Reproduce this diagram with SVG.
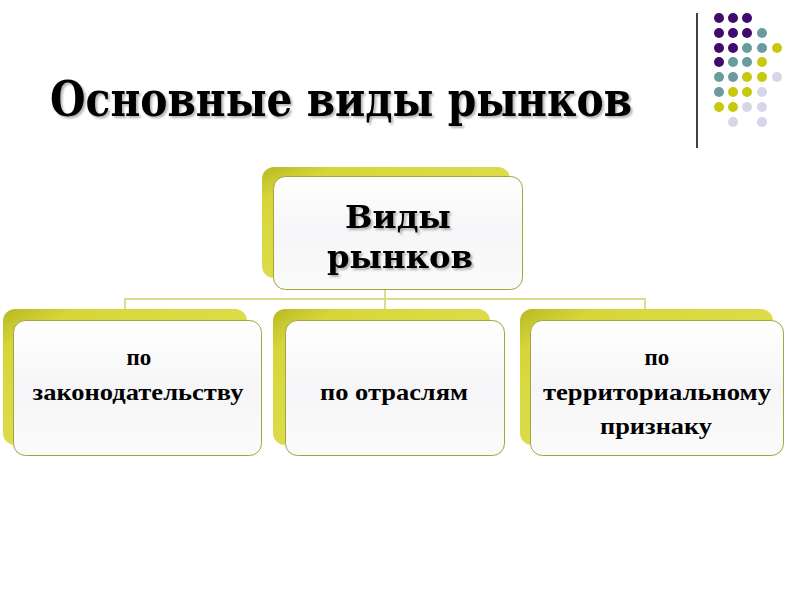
<svg xmlns="http://www.w3.org/2000/svg" width="800" height="600" viewBox="0 0 800 600">
<defs>
<linearGradient id="back" x1="0" y1="0" x2="1" y2="1">
<stop offset="0" stop-color="#b8b824"/>
<stop offset="0.15" stop-color="#d6d63a"/>
<stop offset="1" stop-color="#e4e460"/>
</linearGradient>
<linearGradient id="front" x1="0" y1="0" x2="0" y2="1">
<stop offset="0" stop-color="#ffffff"/>
<stop offset="0.5" stop-color="#f6f6f8"/>
<stop offset="1" stop-color="#fbfbfb"/>
</linearGradient>
<filter id="sh" x="-5%" y="-5%" width="110%" height="120%">
<feDropShadow dx="2" dy="2" stdDeviation="0.8" flood-color="#000" flood-opacity="0.3"/>
</filter>
</defs>
<style>
.back{fill:url(#back);}
.front{fill:url(#front);stroke:#a4a43c;stroke-width:1;}
.conn{fill:none;stroke:#dcdc8c;stroke-width:2;}
.t{font-family:"Liberation Serif","DejaVu Serif",serif;font-weight:bold;font-size:23px;fill:#000;text-anchor:middle;}
.big{font-family:"DejaVu Serif","Liberation Serif",serif;font-weight:bold;font-size:32px;fill:#000;text-anchor:middle;}
.p{fill:#400a6e}.g{fill:#6a9c9e}.y{fill:#c8c80c}.l{fill:#d6d6e8}
</style>
<rect width="800" height="600" fill="#fff"/>

<g id="title">
<text x="50" y="116" font-family="'DejaVu Serif','Liberation Serif',serif" font-weight="bold" font-size="48" textLength="582" lengthAdjust="spacingAndGlyphs" filter="url(#sh)">Основные виды рынков</text>
</g>

<g id="decor">
<line x1="697" y1="13" x2="697" y2="148" stroke="#000" stroke-width="1.5"/>
<circle class="p" cx="719" cy="18" r="5"/><circle class="p" cx="733" cy="18" r="5"/><circle class="p" cx="747" cy="18" r="5"/>
<circle class="p" cx="719" cy="33" r="5"/><circle class="p" cx="733" cy="33" r="5"/><circle class="p" cx="747" cy="33" r="5"/><circle class="g" cx="762" cy="33" r="5"/>
<circle class="p" cx="719" cy="48" r="5"/><circle class="p" cx="733" cy="48" r="5"/><circle class="g" cx="747" cy="48" r="5"/><circle class="g" cx="762" cy="48" r="5"/><circle class="y" cx="777" cy="48" r="5"/>
<circle class="p" cx="719" cy="62" r="5"/><circle class="g" cx="733" cy="62" r="5"/><circle class="g" cx="747" cy="62" r="5"/><circle class="y" cx="762" cy="62" r="5"/>
<circle class="g" cx="719" cy="77" r="5"/><circle class="g" cx="733" cy="77" r="5"/><circle class="y" cx="747" cy="77" r="5"/><circle class="y" cx="762" cy="77" r="5"/><circle class="l" cx="777" cy="77" r="5"/>
<circle class="g" cx="719" cy="92" r="5"/><circle class="y" cx="733" cy="92" r="5"/><circle class="y" cx="747" cy="92" r="5"/><circle class="l" cx="762" cy="92" r="5"/>
<circle class="y" cx="719" cy="107" r="5"/><circle class="y" cx="733" cy="107" r="5"/><circle class="l" cx="747" cy="107" r="5"/><circle class="l" cx="762" cy="107" r="5"/>
<circle class="l" cx="733" cy="122" r="5"/><circle class="l" cx="762" cy="122" r="5"/>
</g>

<g id="connectors">
<path class="conn" d="M385 290 V299 M125 310 V299 H645 V310 M385 299 V312"/>
</g>

<g id="root">
<rect class="back" x="262" y="167" width="248" height="111" rx="12"/>
<rect class="front" x="273.5" y="176.5" width="249" height="113" rx="12"/>
<text class="big" x="398" y="228" textLength="106" lengthAdjust="spacingAndGlyphs" filter="url(#sh)">Виды</text>
<text class="big" x="400" y="268" textLength="146" lengthAdjust="spacingAndGlyphs" filter="url(#sh)">рынков</text>
</g>

<g id="law">
<rect class="back" x="3" y="309" width="244" height="136" rx="12"/>
<rect class="front" x="13.5" y="320.5" width="248" height="135" rx="12"/>
<text class="t" x="139" y="365">по</text>
<text class="t" x="138" y="400" textLength="211" lengthAdjust="spacingAndGlyphs">законодательству</text>
</g>

<g id="branch">
<rect class="back" x="273" y="309" width="217" height="136" rx="12"/>
<rect class="front" x="285.5" y="320.5" width="219" height="135" rx="12"/>
<text class="t" x="394" y="400" textLength="148" lengthAdjust="spacingAndGlyphs">по отраслям</text>
</g>

<g id="territory">
<rect class="back" x="520" y="309" width="253" height="136" rx="12"/>
<rect class="front" x="530.5" y="320.5" width="253" height="135" rx="12"/>
<text class="t" x="657" y="365">по</text>
<text class="t" x="657" y="400" textLength="228" lengthAdjust="spacingAndGlyphs">территориальному</text>
<text class="t" x="656" y="434" textLength="112" lengthAdjust="spacingAndGlyphs">признаку</text>
</g>
</svg>
